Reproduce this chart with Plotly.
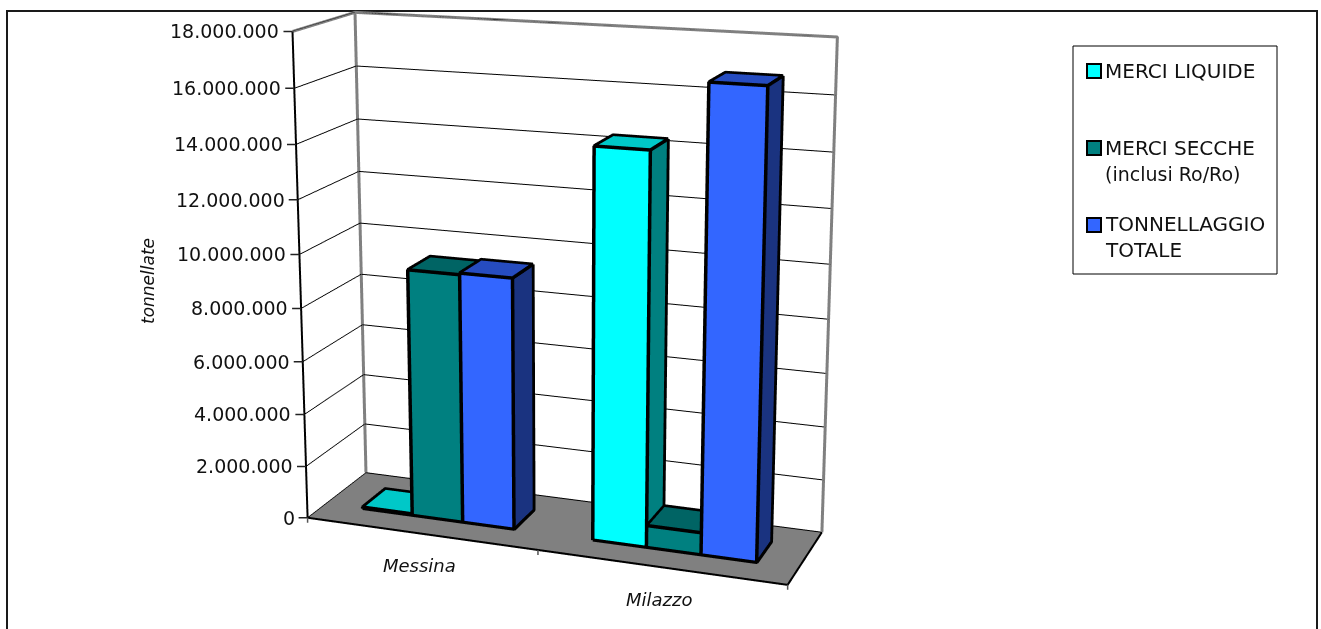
import plotly.graph_objects as go

# Tonnage handled per port, in tonnes
ports = ["Messina", "Milazzo"]
merci_liquide = [60000, 14360000]
merci_secche = [9360000, 830000]
tonnellaggio_totale = [9420000, 16800000]
tick_values = [0, 2000000, 4000000, 6000000, 8000000, 10000000, 12000000, 14000000, 16000000, 18000000]
tick_labels = ["0", "2.000.000", "4.000.000", "6.000.000", "8.000.000", "10.000.000",
               "12.000.000", "14.000.000", "16.000.000", "18.000.000"]
legend_rows = ["MERCI LIQUIDE", "MERCI SECCHE", "(inclusi Ro/Ro)", "TONNELLAGGIO", "TOTALE"]

FONT = "DejaVu Sans"
INK = "#111111"
FIG_W, FIG_H, TOP = 1321, 1769, 644
Z_MAX = 18000000

BAR_W = 2 / 9          # gap width 150%
GAP = 1 / 6
DEPTH_START, DEPTH_END = 0.3, 0.7
# Outlines sit just in front of the faces they trace so the depth test keeps them visible
NUDGE_X, NUDGE_Y, NUDGE_Z = 0.004, 0.012, 30000


def bar(slot, index, value, colors):
    """One clustered box: its mesh faces and its outline."""
    x0 = index + GAP + slot * BAR_W
    x1 = x0 + BAR_W
    y0, y1 = DEPTH_START, DEPTH_END
    xs = [x0, x1, x1, x0, x0, x1, x1, x0]
    ys = [y0, y0, y1, y1, y0, y0, y1, y1]
    zs = [0, 0, 0, 0, value, value, value, value]
    i = [0, 0, 1, 1, 4, 4, 3, 3]
    j = [1, 5, 2, 6, 5, 6, 2, 6]
    k = [5, 4, 6, 5, 6, 7, 6, 7]
    fc = [colors[0], colors[0], colors[1], colors[1], colors[2], colors[2], colors[1], colors[1]]
    mesh = go.Mesh3d(x=xs, y=ys, z=zs, i=i, j=j, k=k, facecolor=fc, flatshading=True,
                     lighting=dict(ambient=1, diffuse=0, specular=0, fresnel=0, roughness=1),
                     hoverinfo="skip", showscale=False)
    path = [0, 1, 5, 4, 0, None, 4, 7, 6, 5, None, 6, 2, 1]
    line = go.Scatter3d(x=[None if p is None else xs[p] + NUDGE_X for p in path],
                        y=[None if p is None else ys[p] - NUDGE_Y for p in path],
                        z=[None if p is None else zs[p] + NUDGE_Z for p in path],
                        mode="lines", line=dict(color="black", width=7), hoverinfo="skip", showlegend=False)
    return [mesh, line]


def edge(points, color, width):
    return go.Scatter3d(x=[p[0] for p in points], y=[p[1] for p in points], z=[p[2] for p in points],
                        mode="lines", line=dict(color=color, width=width), hoverinfo="skip", showlegend=False)


palette = [("#00FFFF", "#008080", "#00C8C8"),
           ("#008080", "#004040", "#006464"),
           ("#3366FF", "#1A3380", "#264CC0")]
series = [merci_liquide, merci_secche, tonnellaggio_totale]

traces = []
for slot, values in enumerate(series):
    for index, value in enumerate(values):
        traces += bar(slot, index, value, palette[slot])

traces.append(edge([(0, 0, Z_MAX), (0, 1, Z_MAX), (2, 1, Z_MAX), (2, 1, 0)], "#808080", 6))
traces.append(edge([(0, 1, Z_MAX), (0, 1, 0)], "#808080", 6))
traces.append(edge([(0, 0, Z_MAX), (0, 0, 0), (2, 0, 0), (2, 1, 0)], "black", 4))

# Value labels carry their own tick, drawn as a short leader to the left of the axis
scene_notes = [dict(x=0, y=0, z=v, text=t, showarrow=True, arrowhead=0, arrowwidth=1.5, arrowcolor="#222222",
                    ax=-9, ay=0, standoff=0, xanchor="right", borderpad=3,
                    font=dict(family=FONT, size=19, color=INK))
               for v, t in zip(tick_values, tick_labels)]
for boundary in range(len(ports) + 1):
    scene_notes.append(dict(x=boundary, y=0, z=0, text="\u00a0", showarrow=True, arrowhead=0, arrowwidth=1.5,
                            arrowcolor="#555555", ax=0, ay=9, standoff=0, font=dict(family=FONT, size=4)))
for index, name in enumerate(ports):
    scene_notes.append(dict(x=index + 0.5, y=0, z=0, text="<i>%s</i>" % name, showarrow=False, yshift=-32,
                            xshift=-1, font=dict(family=FONT, size=18, color=INK)))


def px(x):
    return x / FIG_W


def py(y):
    return 1 - (y + TOP) / FIG_H


shapes = [dict(type="rect", xref="paper", yref="paper", x0=px(7), x1=px(1317), y0=py(700), y1=py(11),
               line=dict(color="#1a1a1a", width=2), fillcolor="white", layer="below"),
          dict(type="rect", xref="paper", yref="paper", x0=px(1073), x1=px(1277), y0=py(274), y1=py(46),
               line=dict(color="black", width=1), fillcolor="white", layer="below")]
for y, (c, _, _) in zip([71, 148, 225], palette):
    shapes.append(dict(type="rect", xref="paper", yref="paper", x0=px(1087), x1=px(1101), y0=py(y + 7), y1=py(y - 7),
                       line=dict(color="black", width=2), fillcolor=c, layer="below"))

notes = [dict(xref="paper", yref="paper", x=px(148), y=py(281), text="<i>tonnellate</i>", textangle=-90,
              showarrow=False, xanchor="center", yanchor="middle", font=dict(family=FONT, size=17, color=INK))]
for y, row, size in zip([71, 148, 174, 224, 250], legend_rows, [20, 20, 19, 20, 20]):
    notes.append(dict(xref="paper", yref="paper", x=px(1103), y=py(y), text=row, xanchor="left", yanchor="middle",
                      showarrow=False, font=dict(family=FONT, size=size, color=INK)))

fig = go.Figure(traces)
fig.update_layout(
    width=FIG_W, height=FIG_H, margin=dict(l=0, r=0, t=0, b=0), showlegend=False,
    paper_bgcolor="white", separators=",.", shapes=shapes, annotations=notes,
    scene=dict(
        domain=dict(x=[0, 2 * 549 / FIG_W], y=[0, 1]),
        bgcolor="rgba(0,0,0,0)",
        aspectmode="manual", aspectratio=dict(x=1, y=0.28, z=0.9946),
        camera=dict(eye=dict(x=1.3721, y=-3.7924, z=1.1012), center=dict(x=-0.047, y=0.0528, z=0.0767),
                    up=dict(x=0.0529, y=-0.1385, z=1), projection=dict(type="perspective")),
        xaxis=dict(range=[0, 2], title="", showticklabels=False, ticks="", showgrid=False, zeroline=False,
                   showbackground=False, showspikes=False),
        yaxis=dict(range=[0, 1], title="", showticklabels=False, showgrid=False, zeroline=False, ticks="",
                   showbackground=False, showspikes=False),
        zaxis=dict(range=[0, Z_MAX], title="", tickvals=tick_values, ticktext=[""] * 10, showgrid=True, gridcolor="black",
                   gridwidth=2, zeroline=False, ticks="", showbackground=True, backgroundcolor="#808080", showspikes=False),
        annotations=scene_notes,
    ),
)
clip = ("var gd=document.getElementById('{plot_id}');var box=gd.parentElement;"
        "box.style.cssText='position:relative;overflow:hidden;width:1321px;height:629px';"
        "gd.style.position='absolute';gd.style.top='-%dpx';gd.style.left='0';" % TOP)
fig.write_html("out.html", post_script=clip)
